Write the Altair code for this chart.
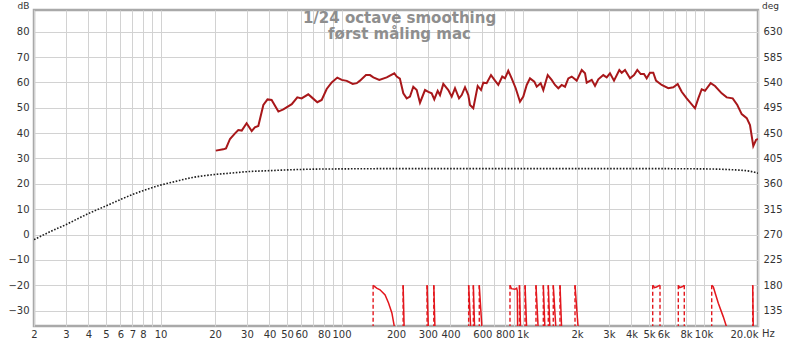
import altair as alt
import pandas as pd

# ---------------- data ----------------
spl_freq = [20.2, 22.2, 23.0, 24.2, 25.8, 26.9, 28.1, 29.9, 31.9, 33.2, 34.7, 37.0, 39.0, 41.1,
            44.8, 47.7, 53.1, 57.0, 60.2, 65.5, 68.5, 73.5, 77.7, 82.8, 88.3, 94.8, 100.3, 106.9,
            115.3, 121.4, 126.5, 136.5, 143.7, 149.9, 161.7, 177.7, 195.7, 201.8, 210.1, 219.5,
            229.2, 238.9, 249.2, 260.3, 271.4, 289.3, 301.7, 314.9, 325.5, 339.9, 350.1, 365.1,
            389.1, 406.3, 423.7, 445.9, 461.3, 481.2, 501.9, 512.6, 534.7, 565.5, 589.8, 607.3,
            633.7, 669.7, 704.8, 734.9, 772.9, 800.2, 834.2, 871.2, 916.9, 968.5, 1010, 1055,
            1100, 1162, 1198, 1260, 1303, 1378, 1449, 1512, 1577, 1646, 1717, 1791, 1870, 1992,
            2124, 2215, 2263, 2412, 2515, 2623, 2794, 2918, 3043, 3203, 3426, 3532, 3683, 3926,
            4131, 4308, 4497, 4690, 4853, 5061, 5278, 5464, 5875, 6388, 6810, 7201, 7576, 8072,
            8974, 9358, 9772, 10190, 10955, 11574, 12604, 13432, 14494, 15372, 16255, 17331,
            18063, 18837, 19497, 20000]
spl_db = [33.1, 33.6, 34.0, 37.7, 39.9, 41.2, 41.0, 43.9, 40.8, 42.3, 42.8, 51.1, 53.3, 53.1,
          48.5, 49.4, 51.4, 54.1, 53.7, 55.3, 54.1, 52.2, 53.1, 57.4, 60.0, 61.9, 61.0, 60.6,
          59.4, 59.7, 60.7, 62.9, 62.9, 62.0, 61.0, 62.0, 63.6, 62.3, 61.5, 55.7,
          53.7, 54.4, 58.3, 57.0, 52.0, 57.0, 56.3, 55.7, 53.3, 56.7, 55.0, 59.4,
          57.0, 54.4, 57.7, 53.7, 55.0, 58.1, 55.0, 51.1, 49.8, 58.6, 57.0, 59.9,
          59.7, 62.9, 60.7, 59.0, 62.3, 61.6, 64.6, 61.6, 57.7, 52.4, 54.4, 59.0,
          61.6, 60.3, 58.3, 59.7, 57.0, 62.9, 61.0, 59.0, 57.7, 59.0, 58.3, 61.6, 62.3, 60.7,
          64.9, 63.6, 59.9, 61.0, 58.6, 61.2, 62.9, 62.0, 63.6, 60.7, 64.9, 63.8, 64.9, 61.6,
          62.9, 64.9, 63.3, 63.3, 61.6, 63.8, 63.8, 60.7, 59.0, 57.7, 58.1, 59.4, 56.3, 53.7,
          49.8, 53.7, 57.3, 56.7, 59.7, 58.6, 55.7, 54.1, 53.7, 51.1, 47.5, 45.9,
          43.2, 34.9, 37.3, 37.7]

ref_freq = [2, 2.5, 3, 3.5, 4, 5, 6, 7, 8, 10, 12, 15, 20, 25, 30, 40, 50, 70, 100, 200,
            1000, 5000, 10000, 12000, 15000, 18000, 20000]
ref_db = [-2.0, 1.4, 3.9, 6.3, 8.3, 11.3, 13.8, 15.8, 17.3, 19.5, 20.9, 22.5, 23.7, 24.3,
          24.8, 25.2, 25.5, 25.8, 25.9, 26.0, 26.0, 26.0, 25.9, 25.8, 25.5, 25.0, 24.2]

# phase: continuous pieces (segment id, frequency, degrees)
phase_seg = ["a"] * 7 + ["b"] * 6 + ["c"] * 5 + ["d"] * 5 + ["e"] * 5
phase_freq = [149.5, 156.4, 163.2, 174.1, 181.9, 189.8, 197.5,
              852.7, 869, 908, 928, 936, 940,
              5240, 5350, 5500, 5650, 5750,
              7256, 7400, 7550, 7700, 7830,
              11098, 11327, 12072, 12864, 13602]
phase_deg = [180, 175, 172, 163, 148.5, 131, 100,
             180, 174, 173, 175, 170, 100,
             180, 176, 177, 179, 180,
             180, 176, 177, 178, 180,
             180, 177, 148, 124, 100]
# steep phase passes (start frequency at +180, end frequency below view)
spike_start = [219, 297, 323.5, 504, 535, 577, 962, 1033, 1187, 1303, 1388, 1479, 1611, 1950, 18696]
spike_end = [222, 302, 328.5, 518, 544, 598, 976, 1055, 1222, 1331, 1418, 1531, 1646, 2034, 18838]
# wrap (dashed) lines
wrap_freq = [149.5, 852.7, 5240, 5750, 7256, 7830, 11098] + spike_start

x_grid_vals = [2, 3, 4, 5, 6, 7, 8, 9, 10, 20, 30, 40, 50, 60, 70, 80, 90, 100, 200, 300, 400,
               500, 600, 700, 800, 900, 1000, 2000, 3000, 4000, 5000, 6000, 7000, 8000, 9000,
               10000, 20000]
x_label_vals = [2, 3, 4, 5, 6, 7, 8, 10, 20, 30, 40, 50, 60, 80, 100, 200, 300, 400, 600, 800,
                1000, 2000, 3000, 4000, 5000, 6000, 8000, 10000, 20000]
x_label_text = ["2", "3", "4", "5", "6", "7", "8", "10", "20", "30", "40", "50", "60", "80",
                "100", "200", "300", "400", "600", "800", "1k", "2k", "3k", "4k", "5k", "6k",
                "8k", "10k", "20.0k"]
db_ticks = [-30, -20, -10, 0, 10, 20, 30, 40, 50, 60, 70, 80]
deg_ticks = [135, 180, 225, 270, 315, 360, 405, 450, 495, 540, 585, 630]

title_lines = ["1/24 octave smoothing", "først måling mac"]
unit_labels = ["dB", "deg", "Hz"]

# ---------------- tables ----------------
spl_df = pd.DataFrame({"f": spl_freq, "v": spl_db})
ref_df = pd.DataFrame({"f": ref_freq, "v": ref_db})
ph_rows = [{"s": s, "f": f, "v": d} for s, f, d in zip(phase_seg, phase_freq, phase_deg)]
for i, (a, b) in enumerate(zip(spike_start, spike_end)):
    ph_rows.append({"s": f"k{i}", "f": a, "v": 180})
    ph_rows.append({"s": f"k{i}", "f": b, "v": 100})
ph_df = pd.DataFrame(ph_rows)
wrap_df = pd.DataFrame({"f": wrap_freq, "v": [180] * len(wrap_freq), "v2": [100] * len(wrap_freq)})

W, H = 724, 316
F = "DejaVu Sans"

label_expr = " : ".join(f"datum.value == {v} ? '{t}'" for v, t in zip(x_label_vals, x_label_text)) + " : ''"

x_axis = alt.Axis(values=x_grid_vals, labelExpr=label_expr, labelOverlap=False, labelFlush=False,
                  ticks=False, domain=False, grid=True, gridColor="#d2d2d2", gridWidth=1,
                  labelFont=F, labelFontSize=10, labelColor="#333", labelPadding=3, title=None,
                  labelAlign={"condition": {"test": "datum.value == 20000", "value": "right"},
                              "value": "center"})
x_scale = alt.Scale(type="log", domain=[2, 20000], nice=False)


def X():
    return alt.X("f:Q", scale=x_scale, axis=x_axis, title=None)


db_scale = alt.Scale(domain=[-36.05, 88.55], nice=False, zero=False)
db_axis = alt.Axis(values=db_ticks, orient="left", ticks=False, domain=False, grid=True,
                   gridColor="#d2d2d2", labelFont=F, labelFontSize=10, labelColor="#333",
                   labelPadding=5, title=None, labelOverlap=False)
deg_scale = alt.Scale(domain=[107.8, 668.5], nice=False, zero=False)
deg_axis = alt.Axis(values=deg_ticks, orient="right", ticks=False, domain=False, grid=False,
                    labelFont=F, labelFontSize=10, labelColor="#333", labelPadding=5,
                    title=None, labelOverlap=False)

ref_line = alt.Chart(ref_df).mark_line(color="#1e1e1e", strokeWidth=1.6, strokeDash=[1.6, 1.6],
                                       interpolate="monotone", clip=True).encode(
    x=X(), y=alt.Y("v:Q", scale=db_scale, axis=db_axis, title=None))
spl_line = alt.Chart(spl_df).mark_line(color="#a8171a", strokeWidth=2, clip=True).encode(
    x=X(), y=alt.Y("v:Q", scale=db_scale, axis=db_axis, title=None))


def txt(s, x, y, size=10, align="center", color="#333", bold=False, baseline="alphabetic"):
    return alt.Chart(pd.DataFrame({"t": [s]})).mark_text(
        font=F, fontSize=size, align=align, baseline=baseline, color=color,
        fontWeight="bold" if bold else "normal").encode(
        text="t:N", x=alt.value(x), y=alt.value(y))


texts = [
    txt(title_lines[0], 365.5, 12.7, size=15, color="#8e8e8e", bold=True),
    txt(title_lines[1], 365.5, 29, size=15, color="#8e8e8e", bold=True),
    txt(unit_labels[0], -4.5, -1.5, size=9, align="right"),
    txt(unit_labels[1], 728, -1.5, size=9, align="left"),
    txt(unit_labels[2], 728, 327.3, align="left"),
]

db_layer = alt.layer(ref_line, spl_line, *texts)

wraps = alt.Chart(wrap_df).mark_rule(color="#e3161c", strokeWidth=1.4, strokeDash=[4, 2.5],
                                      clip=True).encode(
    x=X(), y=alt.Y("v:Q", scale=deg_scale, axis=deg_axis, title=None), y2="v2:Q")
phase = alt.Chart(ph_df).mark_line(color="#e3161c", strokeWidth=1.5, clip=True).encode(
    x=X(), y=alt.Y("v:Q", scale=deg_scale, axis=deg_axis, title=None), detail="s:N")
deg_layer = alt.layer(wraps, phase)

chart = alt.layer(db_layer, deg_layer).resolve_scale(y="independent").properties(
    width=W, height=H,
    autosize=alt.AutoSizeParams(type="none"),
    padding={"left": 34, "top": 10, "right": 42, "bottom": 16},
    background="white",
).configure_view(stroke="#a9a9a9", strokeWidth=2.5)

chart.save("out.html", embed_options={"renderer": "svg", "actions": False})
